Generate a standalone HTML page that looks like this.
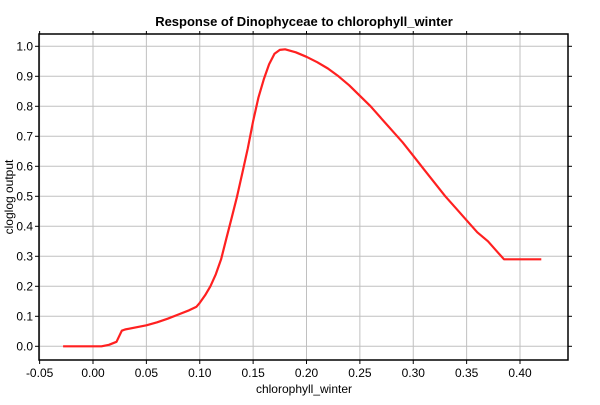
<!DOCTYPE html>
<html><head><meta charset="utf-8"><style>
body{margin:0;background:#fff;font-family:"Liberation Sans",sans-serif}
</style></head><body>
<svg id="chart" width="600" height="400" xmlns="http://www.w3.org/2000/svg" font-family="Liberation Sans, sans-serif">
<rect width="600" height="400" fill="#fff"/>
<text x="304" y="26" text-anchor="middle" font-size="13" font-weight="bold">Response of Dinophyceae to chlorophyll_winter</text>
<g id="grid"></g>
<g id="axes"></g>
<path id="line" fill="none" stroke="#ff2020" stroke-width="2.2" stroke-linejoin="round"/>
<text x="304" y="393" text-anchor="middle" font-size="12">chlorophyll_winter</text>
<text transform="translate(13,197) rotate(-90)" text-anchor="middle" font-size="12">cloglog output</text>
</svg>
<script>
const xVals=[-0.028,0.008,0.015,0.022,0.027,0.03,0.05,0.06,0.07,0.08,0.09,0.097,0.10,0.105,0.11,0.115,0.12,0.125,0.13,0.135,0.14,0.145,0.15,0.155,0.16,0.165,0.17,0.175,0.18,0.19,0.20,0.21,0.22,0.23,0.24,0.25,0.26,0.27,0.28,0.29,0.30,0.31,0.32,0.33,0.34,0.35,0.36,0.37,0.38,0.385,0.42];
const yVals=[0,0,0.005,0.015,0.052,0.056,0.07,0.08,0.092,0.106,0.12,0.132,0.145,0.17,0.2,0.24,0.29,0.36,0.43,0.5,0.58,0.66,0.75,0.83,0.89,0.94,0.975,0.988,0.99,0.98,0.965,0.947,0.926,0.9,0.87,0.835,0.8,0.76,0.72,0.68,0.635,0.59,0.545,0.5,0.46,0.42,0.38,0.35,0.31,0.29,0.29];
const xTicks=[-0.05,0,0.05,0.1,0.15,0.2,0.25,0.3,0.35,0.4];
const xTickLabels=["-0.05","0.00","0.05","0.10","0.15","0.20","0.25","0.30","0.35","0.40"];
const yTicks=[0,0.1,0.2,0.3,0.4,0.5,0.6,0.7,0.8,0.9,1.0];
const yTickLabels=["0.0","0.1","0.2","0.3","0.4","0.5","0.6","0.7","0.8","0.9","1.0"];
const L=39,R=568,T=34,B=360;
const X=v=>93+v*1067.5, Y=v=>346.3-v*300;
const ns="http://www.w3.org/2000/svg";
const grid=document.getElementById('grid'),axes=document.getElementById('axes');
function mk(tag,attrs,parent){const e=document.createElementNS(ns,tag);for(const k in attrs)e.setAttribute(k,attrs[k]);parent.appendChild(e);return e;}
xTicks.forEach((t,i)=>{const x=X(t);
 const g=mk('line',{x1:x,x2:x,y1:T,y2:B,stroke:'#c0c0c0','stroke-width':1},grid);
 
 
 mk('line',{x1:x,x2:x,y1:B,y2:B+4,stroke:'#000'},axes);
 mk('line',{x1:x,x2:x,y1:T,y2:T-3,stroke:'#000'},axes);
 const tx=mk('text',{x:x,y:B+17,'text-anchor':'middle','font-size':12},axes);tx.textContent=xTickLabels[i];
 
 
});
yTicks.forEach((t,i)=>{const y=Y(t);
 const g=mk('line',{x1:L,x2:R,y1:y,y2:y,stroke:'#c0c0c0','stroke-width':1},grid);
 
 
 mk('line',{x1:L-4,x2:L,y1:y,y2:y,stroke:'#000'},axes);
 mk('line',{x1:R,x2:R+4,y1:y,y2:y,stroke:'#000'},axes);
 const tx=mk('text',{x:L-6,y:y+4,'text-anchor':'end','font-size':12},axes);tx.textContent=yTickLabels[i];
 
 
});
const fr=mk('rect',{x:L,y:T,width:R-L,height:B-T,fill:'none',stroke:'#000','stroke-width':1.5},axes);


document.getElementById('line').setAttribute('d',xVals.map((v,i)=>(i?'L':'M')+X(v).toFixed(1)+','+Y(yVals[i]).toFixed(1)).join(''));
</script>
</body></html>
